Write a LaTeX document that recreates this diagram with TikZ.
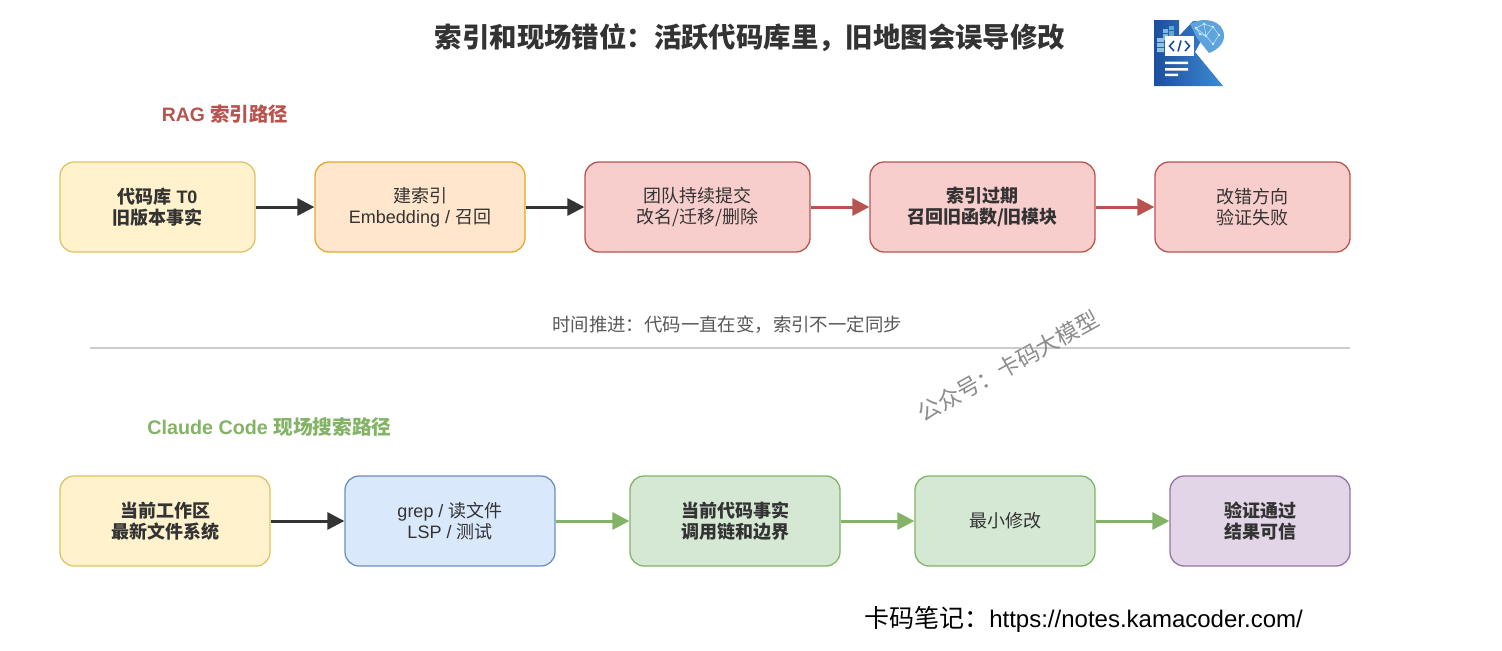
\documentclass[tikz,border=0pt]{standalone}
\usepackage{fontspec}
\setmainfont{Liberation Sans}
\newfontfamily\cj{Noto Sans CJK SC}
\usetikzlibrary{arrows.meta}
\definecolor{ink}{HTML}{333333}
\definecolor{yf}{HTML}{FFF2CC}\definecolor{ys}{HTML}{E0C268}
\definecolor{of}{HTML}{FFE6CC}\definecolor{os}{HTML}{E3A92B}
\definecolor{rf}{HTML}{F8CECC}\definecolor{rs}{HTML}{B85450}
\definecolor{bf}{HTML}{DAE8FC}\definecolor{bs}{HTML}{6C8EBF}
\definecolor{gf}{HTML}{D5E8D4}\definecolor{gs}{HTML}{82B366}
\definecolor{pf}{HTML}{E1D5E7}\definecolor{ps}{HTML}{9673A6}
\definecolor{kdark}{HTML}{1C4F9E}
\definecolor{kmid}{HTML}{2A69B5}
\definecolor{klight}{HTML}{3E8BD2}
\definecolor{kbrain}{HTML}{5FA3DC}
\definecolor{kpix}{HTML}{5FA8D8}
\tikzset{
 box/.style={draw,rounded corners=7pt,line width=0.65pt,minimum height=45pt,align=center,text=ink,font=\fontsize{9}{10.7}\selectfont,inner sep=0pt},
 boldbox/.style={box,font=\fontsize{9}{10.7}\selectfont\bfseries},
 wd/.style={minimum width=#1*0.5pt},
 yb/.style={fill=yf,draw=ys},
 ob/.style={fill=of,draw=os},
 rb/.style={fill=rf,draw=rs},
 bb/.style={fill=bf,draw=bs},
 gb/.style={fill=gf,draw=gs},
 pb/.style={fill=pf,draw=ps},
 conn/.style={line width=1.5pt,-{Triangle[length=8.5pt,width=8.5pt]}},
 dark/.style={conn,draw=ink,color=ink},
 red/.style={conn,draw=rs,color=rs},
 grn/.style={conn,draw=gs,color=gs},
 label/.style={inner sep=0pt,anchor=center}
}
\begin{document}
\begin{tikzpicture}[x=0.5pt,y=-0.5pt]
\useasboundingbox (0,0) rectangle (1502,650);
\fill[white] (0,0) rectangle (1502,650);
\node[label,text=ink,font=\fontsize{13.7}{16}\selectfont\bfseries\cj] (title) at (750,38) {索引和现场错位：活跃代码库里，旧地图会误导修改};
% logo
\shade[left color=kdark,right color=klight] (1154,20) -- (1179,20) -- (1179,36) -- (1193,21) -- (1212,21) -- (1195,52) -- (1223,86) -- (1154,86) -- cycle;
\fill[kbrain] (1190,24) .. controls (1203,16) and (1224,20) .. (1224,36) .. controls (1224,44) and (1217,50) .. (1209,53) .. controls (1205,48) and (1200,42) .. (1197,38) -- cycle;
\foreach \a/\b in {1196/28,1204/24,1213/27,1219/35,1206/36,1213/44,1200/34}{\fill[white!85!cyan] (\a,\b) circle (1.3);}
\draw[white!75!cyan,line width=0.25pt] (1196,28) -- (1204,24) -- (1213,27) -- (1219,35) -- (1213,44) -- (1206,36) -- (1196,28) (1204,24) -- (1206,36) -- (1213,27) (1200,34) -- (1206,36) (1200,34) -- (1196,28);
\fill[kpix] (1169,26) rectangle (1174,30) (1169,31) rectangle (1174,36);
\fill[kpix!80!white] (1163,29) rectangle (1168,33) (1163,34) rectangle (1168,40);
\fill[kpix!70!white] (1157,38) rectangle (1164,42) (1157,43) rectangle (1164,47) (1157,48) rectangle (1164,52);
\fill[white] (1165,36) rectangle (1194,56);
\draw[kdark,line width=0.8pt] (1174,41) -- (1169.5,46) -- (1174,51) (1185,41) -- (1189.5,46) -- (1185,51) (1181,40.5) -- (1178,51.5);
\fill[white] (1165,61.5) rectangle (1188,64) (1165,68) rectangle (1188,70.5) (1165,73.5) rectangle (1178,76);
% section titles
\node[label,text=rs,font=\fontsize{9.7}{12}\selectfont\bfseries] (ragt) at (225,114) {RAG {\cj 索引路径}};
\node[label,text=gs,font=\fontsize{9.85}{12}\selectfont\bfseries] (cct) at (269.5,427) {Claude Code {\cj 现场搜索路径}};
% RAG row
\node[boldbox,yb,wd=195] (r1) at (157.5,207) {{\cj 代码库} T0\\{\cj 旧版本事实}};
\node[box,ob,wd=210] (r2) at (420,207) {{\cj 建索引}\\Embedding / {\cj 召回}};
\node[box,rb,wd=225] (r3) at (697.5,207) {\cj 团队持续提交\\\cj 改名/迁移/删除};
\node[boldbox,rb,wd=225] (r4) at (982.5,207) {\cj 索引过期\\\cj 召回旧函数/旧模块};
\node[box,rb,wd=195] (r5) at (1252.5,207) {\cj 改错方向\\\cj 验证失败};
\draw[dark] (r1) -- (r2);
\draw[dark] (r2) -- (r3);
\draw[red] (r3) -- (r4);
\draw[red] (r4) -- (r5);
% middle
\node[label,text=black!65,font=\fontsize{9.2}{11}\selectfont\cj] (mid) at (727,325) {时间推进：代码一直在变，索引不一定同步};
\coordinate (sepa) at (90,348);
\coordinate (sepb) at (1350,348);
\draw[draw=black!20,line width=0.7pt] (sepa) -- (sepb);
\node[label,text=black!45,rotate=29,font=\fontsize{11.3}{13}\selectfont\cj] (wm) at (1008,366) {公众号：卡码大模型};
% Claude row
\node[boldbox,yb,wd=210] (c1) at (165,521) {\cj 当前工作区\\\cj 最新文件系统};
\node[box,bb,wd=210] (c2) at (450,521) {grep / {\cj 读文件}\\LSP / {\cj 测试}};
\node[boldbox,gb,wd=210] (c3) at (735,521) {\cj 当前代码事实\\\cj 调用链和边界};
\node[box,gb,wd=180] (c4) at (1005,521) {\cj 最小修改};
\node[boldbox,pb,wd=180] (c5) at (1260,521) {\cj 验证通过\\\cj 结果可信};
\draw[dark] (c1) -- (c2);
\draw[grn] (c2) -- (c3);
\draw[grn] (c3) -- (c4);
\draw[grn] (c4) -- (c5);
\node[label,text=black,font=\fontsize{12}{14}\selectfont] (foot) at (1083.5,619) {{\fontsize{12.5}{14}\selectfont\cj 卡码笔记：}https://notes.kamacoder.com/};
\end{tikzpicture}
\end{document}
